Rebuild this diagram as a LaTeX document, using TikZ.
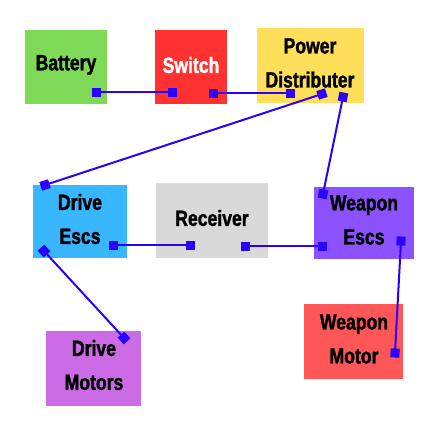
\documentclass[tikz,border=0pt]{standalone}
\usepackage{fontspec}
\newfontfamily\impact{Liberation Sans}[UprightFont=* Bold, FakeStretch=0.8, FakeBold=1.5]
\usetikzlibrary{arrows.meta}
\definecolor{cgreen}{HTML}{7ED957}
\definecolor{cred}{HTML}{FF3131}
\definecolor{cyellow}{HTML}{FFDE59}
\definecolor{cblue}{HTML}{38B6FF}
\definecolor{cgray}{HTML}{D9D9D9}
\definecolor{cpurple}{HTML}{8C52FF}
\definecolor{clilac}{HTML}{CB6CE6}
\definecolor{cred2}{HTML}{FF5757}
\definecolor{wire}{RGB}{43,0,255}
\begin{document}
\begin{tikzpicture}[x=1pt,y=-1pt,
  box/.style={rectangle, inner sep=0pt, align=center,
    font=\impact\fontsize{22}{34}\selectfont},
  link/.style={draw=wire, line width=2pt,
    {Square[length=9pt,width=9pt]}-{Square[length=9pt,width=9pt]},
    shorten <=-4.5pt, shorten >=-4.5pt}]
\useasboundingbox[fill=white] (0,0) rectangle (439,431);
% boxes
\fill[cgreen] (25,30) rectangle (107,104);
\node[box] (bat) at (66,65) {Battery};
\fill[cred] (155,30) rectangle (227,104);
\node[box, text=white] (sw) at (191,65) {Switch};
\fill[cyellow] (257,28) rectangle (364,103);
\node[box] (pd) at (310,63) {Power\\Distributer};
\fill[cblue] (33,185) rectangle (127,258);
\node[box] (desc) at (80,219) {Drive\\Escs};
\fill[cgray] (156,183) rectangle (268,258);
\node[box] (rx) at (212,218) {Receiver};
\fill[cpurple] (314,187) rectangle (414,259);
\node[box] (wesc) at (364,220) {Weapon\\Escs};
\fill[clilac] (46,331) rectangle (141,406);
\node[box] (dmot) at (94,365) {Drive\\Motors};
\fill[cred2] (304,304) rectangle (403,379);
\node[box] (wmot) at (354,339) {Weapon\\Motor};
% connection points
\coordinate (b1) at (96,92);
\coordinate (s1) at (172,92);
\coordinate (s2) at (213,93);
\coordinate (p1) at (290,93);
\coordinate (p2) at (322,94);
\coordinate (p3) at (343,97);
\coordinate (d1) at (45,185);
\coordinate (d2) at (113,245);
\coordinate (d3) at (44,251);
\coordinate (r1) at (190,245);
\coordinate (r2) at (245,246);
\coordinate (w1) at (322,246);
\coordinate (w2) at (323,194);
\coordinate (w3) at (401,241);
\coordinate (m1) at (124,338);
\coordinate (m2) at (395,353);
% connectors
\draw[link] (b1) -- (s1);
\draw[link] (s2) -- (p1);
\draw[link] (p2) -- (d1);
\draw[link] (p3) -- (w2);
\draw[link] (d2) -- (r1);
\draw[link] (r2) -- (w1);
\draw[link] (d3) -- (m1);
\draw[link] (w3) -- (m2);
\end{tikzpicture}
\end{document}
